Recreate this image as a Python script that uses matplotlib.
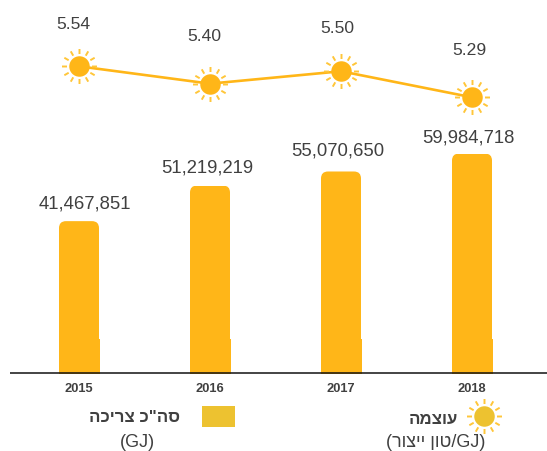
import numpy as np
import matplotlib
matplotlib.use("Agg")
import matplotlib.pyplot as plt
from matplotlib.path import Path
from matplotlib.lines import Line2D
from matplotlib.patches import Rectangle

plt.rcParams['font.family'] = ['Liberation Sans', 'DejaVu Sans']

years = ['2015', '2016', '2017', '2018']
consumption = [41467851, 51219219, 55070650, 59984718]
intensity = [5.54, 5.40, 5.50, 5.29]

BAR = '#FFB618'
RAY = '#FFC63A'
LEG = '#EDC230'
TXT = '#404040'
W, H = 547, 452
BASE = 373.5

fig = plt.figure(figsize=(W / 100, H / 100), dpi=100)
ax = fig.add_axes([0, (H - BASE) / H, 1, BASE / H])
ax.set_xlim(-79 / 131, (W - 79) / 131)
px_per_unit = 3.65e-6
ax.set_ylim(0, BASE / px_per_unit)
for s in ['top', 'left', 'right', 'bottom']:
    ax.spines[s].set_visible(False)
ax.set_yticks([])
xs = np.arange(len(years))
ax.set_xticks(xs)
ax.set_xticklabels(years, fontsize=9.3, fontweight='bold', color=TXT)
ax.tick_params(axis='x', length=0, pad=6.5)
ax.set_facecolor('none')

# bars with rounded top corners
bar_w = 40 / 131
bars = ax.bar(xs, consumption, width=bar_w, color=BAR, zorder=2)
rx, ry = 7 / 131, 7 / px_per_unit
for b in bars:
    x0, x1 = b.get_x(), b.get_x() + b.get_width()
    top = b.get_height()
    low = -10 / px_per_unit
    clip = Path([(x0, low), (x0, top - ry), (x0, top), (x0 + rx, top),
                 (x1 - rx, top), (x1, top), (x1, top - ry), (x1, low), (x0, low)],
                [Path.MOVETO, Path.LINETO, Path.CURVE3, Path.CURVE3,
                 Path.LINETO, Path.CURVE3, Path.CURVE3, Path.LINETO, Path.CLOSEPOLY])
    b.set_clip_path(clip, ax.transData)
    # slightly wider square foot of the bar, reaching just past the axis line
    ax.add_patch(Rectangle((x0 - 0.5 / 131, -1.5 / px_per_unit), b.get_width() + 1 / 131,
                           35 / px_per_unit, color=BAR, lw=0, zorder=2, clip_on=False))

ax.plot([-69 / 131, (W - 79) / 131], [0, 0], color='#111111', lw=1.1,
        zorder=3, clip_on=False, solid_capstyle='butt')

bar_off = [(6, 10), (-3, 10), (-3, 13), (-4, 8)]
for x, v, o in zip(xs, consumption, bar_off):
    ax.annotate(f'{v:,}', (x, v), xytext=o, textcoords='offset pixels',
                ha='center', va='bottom', fontsize=13.3, color=TXT, zorder=5)

# intensity line on a second scale
ax2 = ax.twinx()
ax2.set_ylim(5.54 - (BASE - 67.3) / 124, 5.54 + 67.3 / 124)
ax2.axis('off')

angles = np.deg2rad(np.arange(0, 360, 30))
verts, codes = [], []
for a in angles:
    verts += [(12.5 * np.cos(a), 12.5 * np.sin(a)), (17.5 * np.cos(a), 17.5 * np.sin(a))]
    codes += [Path.MOVETO, Path.LINETO]
rays = Path(verts, codes)
ray_ms = 35 * 0.72
disc_ms = 20.5 * 0.72

ax2.plot(xs, intensity, color=BAR, lw=1.9, zorder=3)
ax2.plot(xs, intensity, ls='none', marker=rays, ms=ray_ms, mfc='none', mec=RAY, mew=1.4, zorder=4)
ax2.plot(xs, intensity, ls='none', marker='o', ms=disc_ms, mfc=BAR, mec='none', zorder=5)

line_off = [(-6, 35), (-6, 41), (-4, 36), (-3, 40)]
for x, v, o in zip(xs, intensity, line_off):
    ax2.annotate(f'{v:.2f}', (x, v), xytext=o, textcoords='offset pixels',
                 ha='center', va='bottom', fontsize=12.6, color=TXT)


def fx(x):
    return x / W


def fy(y):
    return 1 - y / H


# legend
fig.add_artist(Rectangle((fx(202), fy(428)), 33 / W, 21 / H, color=LEG, lw=0,
                         transform=fig.transFigure))
fig.add_artist(Line2D([fx(484)], [fy(417)], marker=rays, ms=ray_ms, mfc='none',
                      mec=RAY, mew=1.4, ls='none', transform=fig.transFigure))
fig.add_artist(Line2D([fx(484)], [fy(417)], marker='o', ms=disc_ms, mfc=LEG,
                      mec='none', ls='none', transform=fig.transFigure))

fig.text(fx(180), fy(418), 'סה"כ צריכה'[::-1], ha='right', va='center',
         fontsize=12.2, fontweight='bold', color=TXT)
fig.text(fx(137), fy(443), '(GJ)', ha='center', va='center', fontsize=13, color=TXT)
fig.text(fx(458), fy(419), 'עוצמה'[::-1], ha='right', va='center',
         fontsize=12.2, fontweight='bold', color=TXT)
fig.text(fx(435.5), fy(443), '(' + 'טון ייצור'[::-1] + '/GJ)', ha='center', va='center',
         fontsize=13, color=TXT)

fig.savefig('out.png', dpi=100)
